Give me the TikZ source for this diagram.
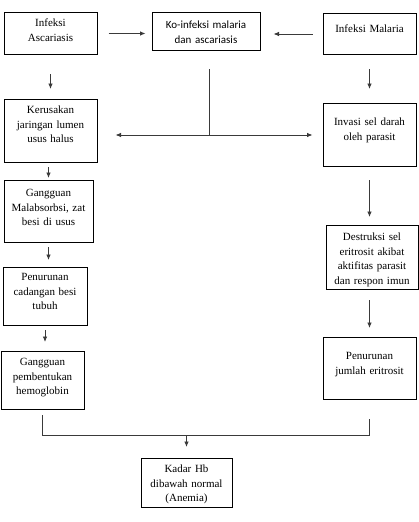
\documentclass[tikz,border=0pt]{standalone}
\usepackage{fontspec}
\setmainfont{Liberation Serif}
\newfontfamily\calibri{Carlito}
\usetikzlibrary{arrows.meta, calc}
\definecolor{cline}{HTML}{3A3A3A}
\tikzset{
  every picture/.style={line width=0.8pt},
  box/.style n args={3}{draw=black, line width=1pt, anchor=north, align=center,
    inner xsep=3pt, inner ysep=3pt, text width={#1pt-6pt}, text height={#3pt-3pt},
    text depth={#2pt-#3pt-3pt}, font=\fontsize{11pt}{14.5pt}\selectfont},
  link/.style={draw=cline},
  arrow/.style={-{Latex[length=5.5pt, width=4.5pt]}, draw=cline},
}

\begin{document}
\begin{tikzpicture}[x=1pt, y=-1pt]
  \useasboundingbox (0,0) rectangle (419,522);

  % boxes: name / centre x / top / width / height / first baseline
  \foreach \n/\x/\y/\w/\h/\b/\txt in {
      asc/50.5/12/93/42/14/Infeksi\\Ascariasis,
      mal/369.5/13/93/41/19/Infeksi Malaria,
      ker/50.5/99/93/63/14/Kerusakan\\jaringan lumen\\usus halus,
      inv/369.5/103/93/63/22/Invasi sel darah\\oleh parasit,
      mala/48.5/180/89/62/16/Gangguan\\Malabsorbsi{,} zat\\besi di usus,
      cad/45/267/84/58/13/Penurunan\\cadangan besi\\tubuh,
      pemb/42.5/351/83/58/14/Gangguan\\pembentukan\\hemoglobin,
      des/372/225/92/64/15/Destruksi sel\\eritrosit akibat\\aktifitas parasit\\dan respon imun,
      jum/369.5/337/93/62/22/Penurunan\\jumlah eritrosit,
      hb/186.5/458/91/49/14/Kadar Hb\\dibawah normal\\(Anemia)} {
    \node[box={\w}{\h}{\b}] (\n) at (\x,\y) {\txt};
  }
  \node[box={108}{38}{16}, font=\calibri\fontsize{11pt}{15pt}\selectfont] (ko) at (206,12) {Ko-infeksi malaria\\dan ascariasis};

  % both infections feed the co-infection
  \draw[arrow] ([xshift=11pt]asc.east) -- ([xshift=-6pt]asc.east -| ko.west);
  \draw[arrow] ([xshift=-10pt]mal.west) -- ([xshift=13pt]mal.west -| ko.east);
  \draw[arrow] ([yshift=-19pt]asc.south) -- ([yshift=10pt]ker.north);
  \draw[arrow] ([yshift=-14pt]mal.south) -- ([yshift=14pt]inv.north);

  % co-infection splits to both sides
  \coordinate (split) at ([xshift=3pt]ko.south |- inv.west);
  \draw[link] ([yshift=-18pt]split |- ko.south) -- (split);
  \draw[arrow] (split) -- ([xshift=18pt]split -| ker.east);
  \draw[arrow] (split) -- ([xshift=-10pt]split -| inv.west);

  % ascariasis path
  \draw[arrow] ([yshift=-4pt]ker.south -| mala.north) -- ([yshift=2pt]mala.north);
  \draw[arrow] ([yshift=-4pt]mala.south) -- ([yshift=7pt]mala.south |- cad.north);
  \draw[arrow] ([yshift=-4pt]cad.south) -- ([yshift=9pt]cad.south |- pemb.north);

  % malaria path
  \draw[arrow] ([yshift=-13pt]inv.south) -- ([yshift=8pt]inv.south |- des.north);
  \draw[arrow] ([yshift=-10pt]des.south -| jum.north) -- ([yshift=9pt]jum.north);

  % both end in anemia
  \coordinate (join) at ([yshift=23pt]hb.north);
  \draw[link] ([yshift=-5pt]pemb.south) -- (pemb.south |- join) -- (jum.south |- join) -- ([yshift=-19pt]jum.south);
  \draw[arrow] (join) -- ([yshift=11pt]hb.north);
\end{tikzpicture}
\end{document}
